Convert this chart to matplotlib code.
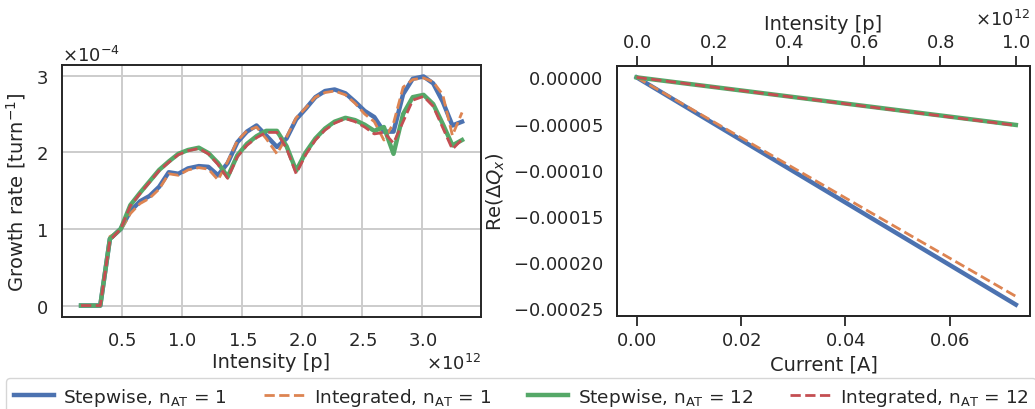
import matplotlib
matplotlib.use("Agg")
import matplotlib.pyplot as plt

# Growth rate vs intensity (intensity in 1e12 p, growth rate in 1e-4 turn^-1)
intensity = [0.16, 0.24, 0.32, 0.40, 0.49, 0.57, 0.65, 0.73, 0.81, 0.89,
             0.97, 1.05, 1.14, 1.22, 1.30, 1.38, 1.46, 1.54, 1.62, 1.70,
             1.79, 1.87, 1.95, 2.03, 2.11, 2.19, 2.27, 2.36, 2.44, 2.52,
             2.60, 2.68, 2.76, 2.84, 2.92, 3.01, 3.09, 3.17, 3.25, 3.33]
growth_step_1 = [0, 0, 0, 0.87, 1.00, 1.23, 1.36, 1.43, 1.55, 1.74,
                 1.72, 1.79, 1.82, 1.81, 1.70, 1.86, 2.13, 2.27, 2.35, 2.22,
                 2.07, 2.18, 2.43, 2.57, 2.72, 2.80, 2.82, 2.77, 2.66, 2.54,
                 2.46, 2.27, 2.27, 2.76, 2.96, 2.99, 2.90, 2.66, 2.35, 2.40]
growth_int_1 = [0, 0, 0, 0.90, 0.98, 1.20, 1.33, 1.40, 1.52, 1.72,
                1.70, 1.77, 1.80, 1.78, 1.64, 1.88, 2.15, 2.28, 2.33, 2.18,
                1.98, 2.20, 2.45, 2.58, 2.72, 2.78, 2.80, 2.75, 2.64, 2.50,
                2.40, 2.16, 2.38, 2.85, 2.95, 2.97, 2.92, 2.75, 2.22, 2.52]
growth_step_12 = [0, 0, 0, 0.87, 1.00, 1.31, 1.47, 1.62, 1.77, 1.88,
                  1.98, 2.03, 2.06, 1.99, 1.86, 1.68, 1.96, 2.11, 2.21, 2.28,
                  2.28, 2.08, 1.76, 2.00, 2.18, 2.31, 2.40, 2.45, 2.42, 2.36,
                  2.28, 2.33, 1.98, 2.50, 2.72, 2.75, 2.63, 2.37, 2.09, 2.16]
growth_int_12 = [0, 0, 0, 0.85, 1.00, 1.30, 1.46, 1.61, 1.76, 1.87,
                 1.97, 2.02, 2.05, 1.98, 1.84, 1.66, 1.94, 2.09, 2.19, 2.26,
                 2.26, 2.05, 1.72, 1.97, 2.16, 2.29, 2.38, 2.44, 2.40, 2.33,
                 2.24, 2.26, 2.12, 2.40, 2.68, 2.73, 2.60, 2.32, 2.04, 2.17]

# Tune shift vs current
current = [0.0, 0.0727]
intensity_max = 1.0e12
dq_step_1 = [0.0, -2.46e-4]
dq_int_1 = [0.0, -2.37e-4]
dq_step_12 = [0.0, -5.15e-5]
dq_int_12 = [0.0, -5.2e-5]

labels = [r"Stepwise, n$_\mathrm{AT}$ = 1", r"Integrated, n$_\mathrm{AT}$ = 1",
          r"Stepwise, n$_\mathrm{AT}$ = 12", r"Integrated, n$_\mathrm{AT}$ = 12"]
colors = ["#4C72B0", "#DD8452", "#55A868", "#C44E52"]
styles = ["-", "--", "-", "--"]
widths = [3.2, 2.0, 3.2, 2.0]

dark = "#262626"
plt.rcParams.update({
    "font.family": "DejaVu Sans",
    "font.size": 14,
    "axes.formatter.use_mathtext": True,
    "text.color": dark,
    "axes.labelcolor": dark,
    "xtick.color": dark,
    "ytick.color": dark,
    "axes.edgecolor": dark,
    "axes.linewidth": 1.4,
})

fig = plt.figure(figsize=(10.35, 4.10), dpi=100)
ax1 = fig.add_axes([0.0599, 0.2244, 0.4049, 0.6146])
ax2 = fig.add_axes([0.5961, 0.2268, 0.3990, 0.6098])

# Left panel
x = [v * 1e12 for v in intensity]
for ys, c, ls, lw, lab in zip([growth_step_1, growth_int_1, growth_step_12, growth_int_12],
                              colors, styles, widths, labels):
    ax1.plot(x, [v * 1e-4 for v in ys], color=c, linestyle=ls, linewidth=lw, label=lab)
ax1.grid(True, color="#cccccc", linewidth=1.4)
ax1.set_axisbelow(True)
ax1.tick_params(length=0, pad=10, labelsize=13)
ax1.ticklabel_format(axis="both", style="sci", scilimits=(0, 0), useMathText=True)
ax1.set_xlabel("Intensity [p]", fontsize=14, labelpad=2)
ax1.set_ylabel(r"Growth rate [turn$^{-1}$]", fontsize=14, labelpad=6)
ax1.xaxis.get_offset_text().set_fontsize(13)
ax1.yaxis.get_offset_text().set_fontsize(13)

# Right panel
for ys, c, ls, lw in zip([dq_step_1, dq_int_1, dq_step_12, dq_int_12], colors, styles, widths):
    ax2.plot(current, ys, color=c, linestyle=ls, linewidth=lw)
ax2.set_xlim(-0.00377, 0.0754)
ax2.set_xticks([0.0, 0.02, 0.04, 0.06])
ax2.tick_params(axis="x", direction="out", length=7, width=1.3, labelsize=13)
ax2.tick_params(axis="y", length=0, pad=10, labelsize=13)
ax2.set_xlabel("Current [A]", fontsize=14, labelpad=4)
ax2.set_ylabel(r"Re($\Delta Q_x$)", fontsize=14)

ax3 = ax2.twiny()
scale = intensity_max / current[-1]
lo, hi = ax2.get_xlim()
ax3.set_xlim(lo * scale, hi * scale)
ax3.set_xticks([0.0, 0.2e12, 0.4e12, 0.6e12, 0.8e12, 1.0e12])
ax3.ticklabel_format(axis="x", style="sci", scilimits=(0, 0), useMathText=True)
ax3.tick_params(direction="out", length=7, width=1.3, labelsize=13)
ax3.set_xlabel("Intensity [p]", fontsize=14, labelpad=3)
ax3.xaxis.get_offset_text().set_fontsize(13)

fig.legend(loc="lower left", bbox_to_anchor=(-0.003, -0.037), ncol=4, fontsize=13.3,
           frameon=True, edgecolor="#cccccc", fancybox=True, handlelength=2.2,
           handletextpad=0.5, columnspacing=2.0)

fig.savefig("out.png", dpi=100, facecolor="white")
